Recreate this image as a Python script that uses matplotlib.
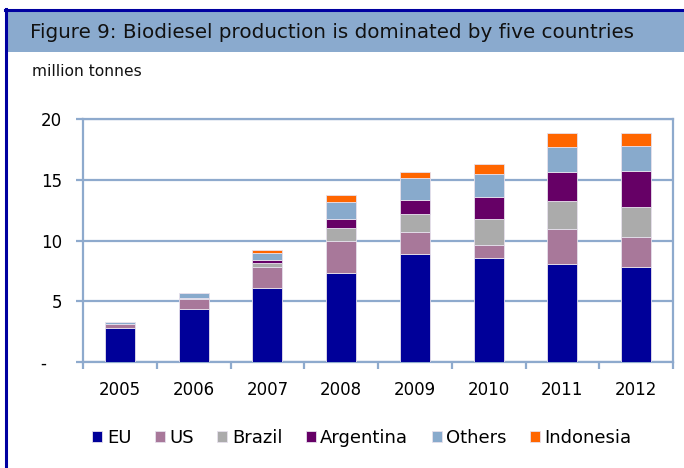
import matplotlib
matplotlib.use("Agg")
import matplotlib.pyplot as plt
from matplotlib.patches import Rectangle
from matplotlib.lines import Line2D
import numpy as np

years = ["2005", "2006", "2007", "2008", "2009", "2010", "2011", "2012"]
series_names = ["EU", "US", "Brazil", "Argentina", "Others", "Indonesia"]
eu        = [2.80, 4.37, 6.10, 7.30, 8.85, 8.57, 8.08, 7.83]
us        = [0.33, 0.82, 1.70, 2.68, 1.86, 1.07, 2.83, 2.47]
brazil    = [0.00, 0.05, 0.36, 1.05, 1.43, 2.17, 2.33, 2.45]
argentina = [0.01, 0.04, 0.24, 0.70, 1.21, 1.79, 2.42, 2.99]
others    = [0.15, 0.36, 0.56, 1.40, 1.79, 1.89, 2.00, 2.06]
indonesia = [0.03, 0.05, 0.24, 0.61, 0.52, 0.83, 1.19, 1.07]
yticks = [0, 5, 10, 15, 20]
ytick_labels = ["-   ", "5", "10", "15", "20"]

colors = ["#000099", "#A8789A", "#ABABAB", "#660066", "#88AACC", "#FF6600"]
grid_c = "#8EAACD"

fig = plt.figure(figsize=(6.84, 4.68), dpi=100)
plt.rcParams['font.family'] = ["DejaVu Sans"]

W, H = 684, 468
def fx(x): return x / W
def fy(y): return 1 - y / H
fig.patches.append(Rectangle((fx(5), fy(52)), fx(684) - fx(5), fy(10) - fy(52),
                             transform=fig.transFigure, facecolor="#8AAACE", edgecolor="none", zorder=0))
fig.add_artist(Line2D([fx(5), 1], [fy(10), fy(10)], transform=fig.transFigure, color="#0000A0", lw=2.2))
fig.add_artist(Line2D([fx(6), fx(6)], [fy(9), 0], transform=fig.transFigure, color="#0000A0", lw=2.2))

fig.text(fx(30), fy(33), "Figure 9: Biodiesel production is dominated by five countries",
         fontsize=14.3, va="center", ha="left", color="#111111")
fig.text(fx(32), fy(72), "million tonnes", fontsize=11.2, va="center", ha="left", color="#111111")

ax = fig.add_axes([fx(83), fy(362), fx(673) - fx(83), fy(119) - fy(362)])
x = np.arange(len(years))
data = [eu, us, brazil, argentina, others, indonesia]
bottom = np.zeros(len(years))
handles = []
for name, vals, c in zip(series_names, data, colors):
    vals = np.array(vals)
    b = ax.bar(x, vals, 0.41, bottom=bottom, color=c, edgecolor="#E6E0EC", linewidth=0.6,
               label=name, zorder=3)
    handles.append(b)
    bottom += vals

ax.set_xlim(-0.5, len(years) - 0.5)
ax.set_ylim(0, 20)
ax.set_yticks(yticks)
ax.set_yticklabels(ytick_labels)
ax.yaxis.grid(True, color=grid_c, linewidth=1.6, zorder=1)
ax.set_axisbelow(True)
for s in ax.spines.values():
    s.set_color(grid_c)
    s.set_linewidth(1.6)
ax.set_xticks(x)
ax.set_xticklabels(years)
ax.set_xticks(np.arange(-0.5, len(years) + 0.5, 1), minor=True)
ax.tick_params(axis="x", which="major", length=0, pad=14, labelsize=12)
ax.tick_params(axis="x", which="minor", length=5, width=1.6, color=grid_c, direction="out")
ax.tick_params(axis="y", length=5, width=1.6, color=grid_c, pad=10, labelsize=12)

leg = fig.legend(handles, series_names, loc="center", bbox_to_anchor=(fx(362), fy(438)),
                 ncol=6, frameon=False, fontsize=13, handlelength=0.55, handleheight=0.55,
                 handletextpad=0.25, columnspacing=1.3)

fig.savefig("out.png", dpi=100)
